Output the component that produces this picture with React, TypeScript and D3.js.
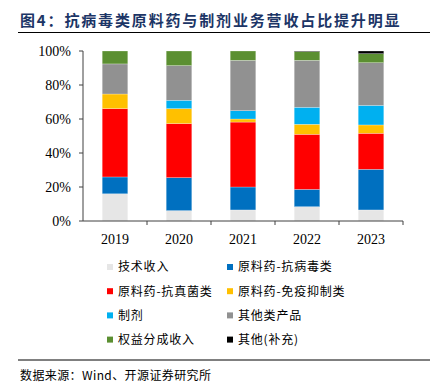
import { useMemo } from "react";
import * as d3 from "d3";

const years = ["2019", "2020", "2021", "2022", "2023"];
const seriesNames = [
  "技术收入",
  "原料药-抗病毒类",
  "原料药-抗真菌类",
  "原料药-免疫抑制类",
  "制剂",
  "其他类产品",
  "权益分成收入",
  "其他(补充)",
];
const seriesColors = ["#e6e6e6", "#0070c0", "#ff0000", "#ffc000", "#00b0f0", "#919191", "#5b8f31", "#000000"];

// share (%) per year, in the order of seriesNames
const techIncome = [16.0, 6.1, 6.5, 8.4, 6.5];
const antiviral = [9.9, 19.4, 13.5, 10.2, 23.9];
const antifungal = [40.2, 31.8, 38.2, 32.4, 21.2];
const immuno = [8.6, 8.8, 1.8, 5.9, 4.9];
const formulation = [0, 4.9, 4.9, 10.0, 11.5];
const otherProducts = [17.7, 20.4, 29.6, 27.6, 25.1];
const royalty = [7.6, 8.6, 5.5, 5.2, 5.3];
const otherSupp = [0, 0, 0, 0.3, 1.6];

const yTicks = [0, 20, 40, 60, 80, 100];

const CJK = "'Noto Sans CJK SC', sans-serif";
const SERIF = "'Liberation Serif', 'Times New Roman', serif";

export default function App() {
  const W = 430;
  const H = 389;
  const plot = { left: 83, right: 403, top: 51, bottom: 221 };

  const rows = useMemo(
    () =>
      years.map((y, i) => {
        const r: any = { year: y };
        [techIncome, antiviral, antifungal, immuno, formulation, otherProducts, royalty, otherSupp].forEach(
          (arr, k) => (r[seriesNames[k]] = arr[i])
        );
        return r;
      }),
    []
  );

  const stacked = d3.stack<any>().keys(seriesNames)(rows);

  const x = d3.scaleBand().domain(years).range([plot.left, plot.right]).paddingInner(0.6).paddingOuter(0.3);
  const xb = d3.scaleBand().domain(years).range([plot.left, plot.right]);
  const y = d3.scaleLinear().domain([0, 100]).range([plot.bottom, plot.top]);

  const axisColor = "#404040";

  return (
    <svg width={W} height={H} style={{ position: "absolute", left: 0, top: 0, background: "#fff" }}>
      {/* title */}
      <text x={20} y={26} fontFamily={CJK} fontWeight={700} fontSize={15} fill="#1c3566" letterSpacing={1.85}>
        图4：抗病毒类原料药与制剂业务营收占比提升明显
      </text>
      <line x1={18} x2={430} y1={32.5} y2={32.5} stroke="#000" strokeWidth={1.2} />

      {/* bars */}
      {stacked.map((s, k) =>
        s.map((d: any, i) => {
          const h = y(d[0]) - y(d[1]);
          if (h <= 0) return null;
          return (
            <rect
              key={`${k}-${i}`}
              x={x(years[i])}
              y={y(d[1])}
              width={x.bandwidth()}
              height={h}
              fill={seriesColors[k]}
              stroke="#ffffff"
              strokeOpacity={0.5}
              strokeWidth={0.5}
            />
          );
        })
      )}

      {/* y axis */}
      <line x1={plot.left} x2={plot.left} y1={plot.top} y2={plot.bottom} stroke={axisColor} />
      {yTicks.map((t) => (
        <g key={t}>
          <line x1={plot.left - 4} x2={plot.left} y1={y(t)} y2={y(t)} stroke={axisColor} />
          <text x={71} y={y(t)} dy="0.35em" textAnchor="end" fontFamily={SERIF} fontSize={14} fill="#000">
            {t}%
          </text>
        </g>
      ))}

      {/* x axis */}
      <line x1={plot.left} x2={plot.right} y1={plot.bottom} y2={plot.bottom} stroke={axisColor} />
      {years.map((yr) => (
        <g key={yr}>
          <line
            x1={(xb(yr) as number) + xb.bandwidth()}
            x2={(xb(yr) as number) + xb.bandwidth()}
            y1={plot.bottom}
            y2={plot.bottom + 4}
            stroke={axisColor}
          />
          <text
            x={(xb(yr) as number) + xb.bandwidth() / 2}
            y={244}
            textAnchor="middle"
            fontFamily={SERIF}
            fontSize={14}
            fill="#000"
          >
            {yr}
          </text>
        </g>
      ))}

      {/* legend */}
      {seriesNames.map((name, k) => {
        const col = k % 2;
        const row = Math.floor(k / 2);
        const lx = col === 0 ? 107 : 227;
        const ly = 267 + row * 24.2;
        return (
          <g key={name}>
            <rect x={lx} y={ly - 3} width={6} height={6} fill={seriesColors[k]} />
            <text x={lx + 11} y={ly} dy="0.36em" fontFamily={CJK} fontSize={12} fill="#000" letterSpacing={0.8}>
              {name}
            </text>
          </g>
        );
      })}

      {/* source */}
      <line x1={18} x2={430} y1={360} y2={360} stroke="#000" strokeWidth={1} />
      <text x={20} y={380} fontFamily={CJK} fontSize={12} fill="#000" letterSpacing={0.4}>
        数据来源：Wind、开源证券研究所
      </text>
    </svg>
  );
}
